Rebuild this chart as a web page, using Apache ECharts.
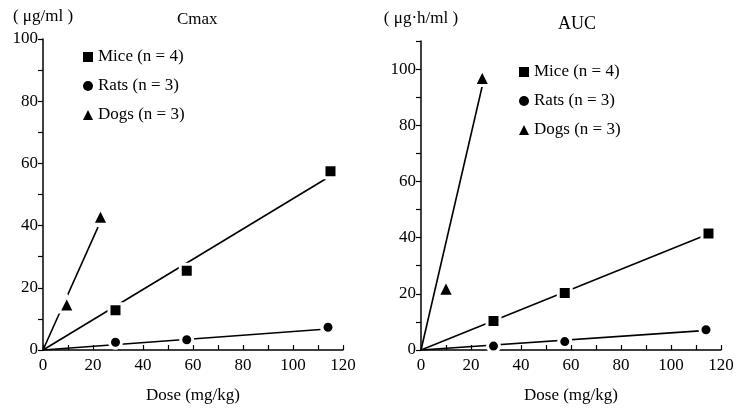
<!DOCTYPE html>
<html>
<head>
<meta charset="utf-8">
<script src="https://cdn.jsdelivr.net/npm/echarts@6/dist/echarts.min.js"></script>
<style>
  html, body { margin: 0; padding: 0; background: #fff; }
  #chart { width: 737px; height: 409px; }
</style>
</head>
<body>
<div id="chart"></div>
<script>
// Cmax 数据 (μg/ml)
const miceDoseC = [29, 57.5, 115]
const miceCmax = [12.8, 25.5, 57.5]
const ratsDoseC = [29, 57.5, 114]
const ratsCmax = [2.5, 3.3, 7.3]
const dogsDoseC = [9.5, 23]
const dogsCmax = [14.8, 43]
// AUC 数据 (μg·h/ml)
const miceDoseA = [29, 57.5, 115]
const miceAuc = [10.3, 20.3, 41.5]
const ratsDoseA = [29, 57.5, 114]
const ratsAuc = [1.4, 3.0, 7.2]
const dogsDoseA = [10, 24.5]
const dogsAuc = [22, 97]
// 回归线 (起点/终点)
const fitMiceCX = [0, 113]
const fitMiceCY = [0, 55]
const fitRatsCX = [0, 111]
const fitRatsCY = [0, 6.6]
const fitDogsCX = [0, 22]
const fitDogsCY = [0, 39.5]
const fitMiceAX = [0, 113]
const fitMiceAY = [0, 40.6]
const fitRatsAX = [0, 111.5]
const fitRatsAY = [0, 6.8]
const fitDogsAX = [0, 24.5]
const fitDogsAY = [0, 94]

const legendNames = ['Mice (n = 4)', 'Rats (n = 3)', 'Dogs (n = 3)']
const font = 'Liberation Serif'

function pairs (xs, ys) {
  return xs.map((x, i) => [x, ys[i]])
}

function xAxisOf (idx) {
  return {
    type: 'value', gridIndex: idx, min: 0, max: 120, interval: 10,
    name: 'Dose (mg/kg)', nameLocation: 'middle', nameGap: 37,
    nameTextStyle: { fontFamily: font, fontSize: 17, color: '#000' },
    axisLine: { lineStyle: { color: '#000', width: 1.5 } },
    axisTick: { inside: true, length: 5, lineStyle: { color: '#000', width: 1.2 } },
    axisLabel: {
      fontFamily: font, fontSize: 17, color: '#000', margin: 7,
      formatter: v => (v % 20 === 0 ? v : '')
    },
    splitLine: { show: false }
  }
}

function yAxisOf (idx, max, name) {
  return {
    type: 'value', gridIndex: idx, min: 0, max: max, interval: 10,
    name: name, nameLocation: 'end', nameGap: 14,
    nameTextStyle: { fontFamily: font, fontSize: 17, color: '#000', align: 'center' },
    axisLine: { show: true, lineStyle: { color: '#000', width: 1.5 } },
    axisTick: { show: true, length: 5, lineStyle: { color: '#000', width: 1.2 } },
    axisLabel: {
      fontFamily: font, fontSize: 17, color: '#000', margin: 5,
      formatter: v => (v % 20 === 0 ? v : '')
    },
    splitLine: { show: false }
  }
}

function fitLine (idx, xs, ys) {
  return {
    type: 'line', xAxisIndex: idx, yAxisIndex: idx,
    data: pairs(xs, ys), symbol: 'none', z: 2,
    lineStyle: { color: '#000', width: 1.6 }
  }
}

function points (idx, name, symbol, size, xs, ys) {
  return {
    type: 'scatter', name: name, xAxisIndex: idx, yAxisIndex: idx,
    data: pairs(xs, ys), symbol: symbol, symbolSize: size, z: 5,
    itemStyle: { color: '#000', borderColor: '#fff', borderWidth: 3, opacity: 1 }
  }
}

function legendAt (left, top) {
  return {
    orient: 'vertical', left: left, top: top, itemGap: 11,
    itemWidth: 10, itemHeight: 10, selectedMode: false,
    itemStyle: { borderWidth: 0 },
    textStyle: { fontFamily: font, fontSize: 17, color: '#000', lineHeight: 18 },
    data: [
      { name: legendNames[0], icon: 'rect' },
      { name: legendNames[1], icon: 'circle' },
      { name: legendNames[2], icon: 'triangle' }
    ]
  }
}

let myChart = echarts.init(document.getElementById('chart'))
myChart.setOption({
  animation: false,
  backgroundColor: '#fff',
  title: [
    { text: 'Cmax', left: 172, top: 6, textStyle: { fontFamily: font, fontSize: 17, fontWeight: 'normal', color: '#000' } },
    { text: 'AUC', left: 553, top: 10, textStyle: { fontFamily: font, fontSize: 18, fontWeight: 'normal', color: '#000' } }
  ],
  legend: [legendAt(78, 43), legendAt(514, 58)],
  grid: [
    { left: 43, top: 39, width: 300, height: 312 },
    { left: 421, top: 41, width: 300, height: 313 }
  ],
  xAxis: [xAxisOf(0), xAxisOf(1)],
  yAxis: [yAxisOf(0, 100, '( μg/ml )'), yAxisOf(1, 110, '( μg·h/ml )')],
  series: [
    fitLine(0, fitMiceCX, fitMiceCY),
    fitLine(0, fitRatsCX, fitRatsCY),
    fitLine(0, fitDogsCX, fitDogsCY),
    points(0, legendNames[0], 'rect', 13, miceDoseC, miceCmax),
    points(0, legendNames[1], 'circle', 12, ratsDoseC, ratsCmax),
    points(0, legendNames[2], 'triangle', 16, dogsDoseC, dogsCmax),
    fitLine(1, fitMiceAX, fitMiceAY),
    fitLine(1, fitRatsAX, fitRatsAY),
    fitLine(1, fitDogsAX, fitDogsAY),
    points(1, legendNames[0], 'rect', 13, miceDoseA, miceAuc),
    points(1, legendNames[1], 'circle', 12, ratsDoseA, ratsAuc),
    points(1, legendNames[2], 'triangle', 16, dogsDoseA, dogsAuc)
  ]
})
</script>
</body>
</html>
